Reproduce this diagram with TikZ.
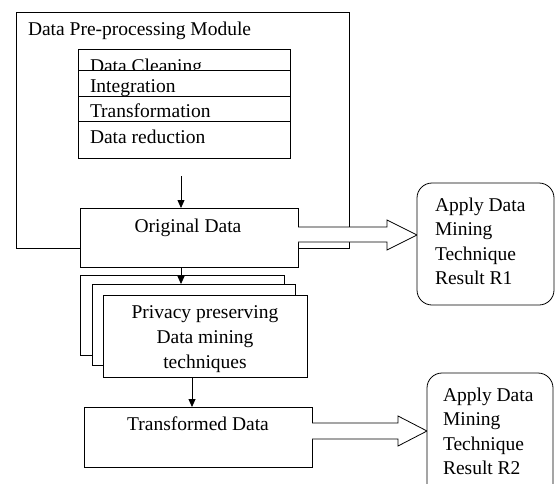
\documentclass[tikz,border=0pt]{standalone}
\usepackage{fontspec}
\setmainfont{Liberation Serif}
\usetikzlibrary{arrows.meta,calc}
\begin{document}
\begin{tikzpicture}[x=1pt,y=-1pt,
  every node/.style={inner sep=0pt,outer sep=0pt},
  box/.style={draw,fill=white,line width=0.8pt,anchor=north west},
  rbox/.style={box,rounded corners=15pt},
  txt/.style={anchor=base west,font=\fontsize{19.5}{23}\selectfont},
  ctxt/.style={anchor=base,font=\fontsize{19.5}{23}\selectfont},
  conn/.style={line width=0.8pt,-{Triangle[length=8pt,width=7pt]}},
  blockarrow/.style={line width=0.8pt,fill=white},
  line width=0.8pt]
\clip (0,0) rectangle (557,483);
% pre-processing module
\node[box,fill=none,minimum width=333pt,minimum height=236pt] (module) at (16,12) {};
\node[txt] (modt) at (28,35) {Data Pre-processing Module};
% stacked steps
\node[box,minimum width=212pt,minimum height=21pt] (r1) at (78,49) {};
\node[txt] (r1t) at (90,72) {Data Cleaning};
\node[box,minimum width=212pt,minimum height=26pt] (r2) at (78,70) {};
\node[txt] (r2t) at (90,92) {Integration};
\node[box,minimum width=212pt,minimum height=25pt] (r3) at (78,96) {};
\node[txt] (r3t) at (90,117) {Transformation};
\node[box,minimum width=212pt,minimum height=37pt] (r4) at (78,121) {};
\node[txt] (r4t) at (90,143) {Data reduction};
% original data
\node[box,minimum width=218pt,minimum height=59pt] (orig) at (80,208) {};
\node[ctxt] (origt) at (188,232) {Original Data};
% block arrow 1
\filldraw[blockarrow] (orig.east |- 0,227) -- (387,227) -- (387,220) -- (417,235) -- (387,250) -- (387,242) -- (orig.east |- 0,242);
% result R1
\node[rbox,minimum width=137pt,minimum height=122pt] (res1) at (417,183) {};
\node[txt] (res1a) at (435,211) {Apply Data};
\node[txt] (res1b) at (435,235) {Mining};
\node[txt] (res1c) at (435,260) {Technique};
\node[txt] (res1d) at (435,284) {Result R1};
% privacy preserving stack
\node[box,minimum width=204pt,minimum height=80pt] (back) at (80,275) {};
\node[box,minimum width=203pt,minimum height=81pt] (mid) at (92,284) {};
\node[box,minimum width=204pt,minimum height=82pt] (front) at (103,295) {};
\node[ctxt] (pp1) at (205,318) {Privacy preserving};
\node[ctxt] (pp2) at (205,343) {Data mining};
\node[ctxt] (pp3) at (205,368) {techniques};
% transformed data
\node[box,minimum width=228pt,minimum height=60pt] (trans) at (84,407) {};
\node[ctxt] (transt) at (198,430) {Transformed Data};
% block arrow 2
\filldraw[blockarrow] (trans.east |- 0,423) -- (398,423) -- (398,416) -- (427,431) -- (398,446) -- (398,439) -- (trans.east |- 0,439);
% result R2
\node[rbox,minimum width=126pt,minimum height=130pt] (res2) at (427,373) {};
\node[txt] (res2a) at (443,401) {Apply Data};
\node[txt] (res2b) at (443,425) {Mining};
\node[txt] (res2c) at (443,450) {Technique};
\node[txt] (res2d) at (443,474) {Result R2};
% connectors
\coordinate (a1) at (181,176);
\draw[conn] (a1) -- (a1 |- orig.north);
\draw[conn] (a1 |- orig.south) -- (a1 |- mid.north);
\coordinate (a3) at (192,377);
\draw[conn] (a3) -- (a3 |- trans.north);
\end{tikzpicture}
\end{document}
